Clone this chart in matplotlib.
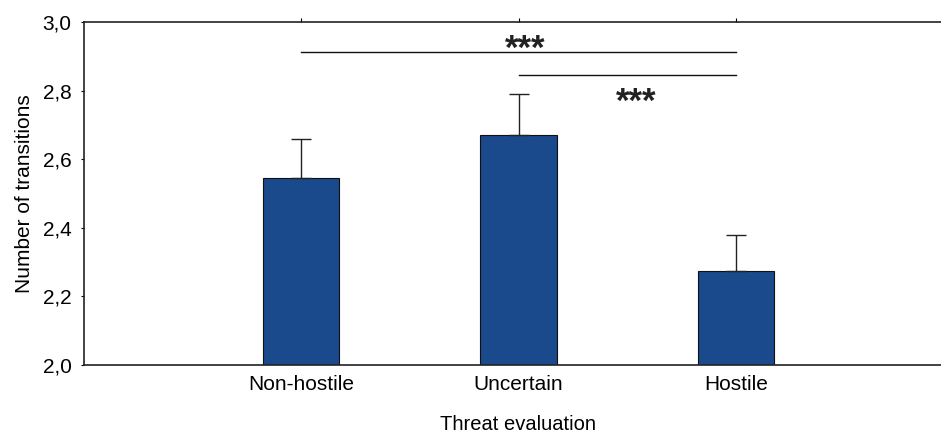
import matplotlib
matplotlib.use("Agg")
import matplotlib.pyplot as plt
from matplotlib.ticker import FuncFormatter

categories = ["Non-hostile", "Uncertain", "Hostile"]
means = [2.545, 2.67, 2.275]
errors = [0.115, 0.12, 0.105]
y_ticks = [2.0, 2.2, 2.4, 2.6, 2.8, 3.0]

# significance brackets: (from category, to category, line height)
brackets = [(0, 2, 2.912), (1, 2, 2.845)]
# star annotations: (x, baseline y, text)
stars = [(1.03, 2.892, "***"), (1.54, 2.737, "***")]

plt.rcParams["font.family"] = ["Liberation Sans", "DejaVu Sans"]

fig = plt.figure(figsize=(9.41, 4.34), dpi=100)
ax = fig.add_axes([84 / 941, 1 - 365 / 434, (953 - 84) / 941, (365 - 22) / 434])

x = list(range(len(categories)))
ax.bar(x, means, width=0.35, bottom=0, color="#1b4a8c", edgecolor="#111111",
       linewidth=0.8, zorder=2)
ax.errorbar(x, means, yerr=[[0] * len(errors), errors], fmt="none",
            ecolor="#222222", elinewidth=1.0, capsize=7.5, capthick=1.0, zorder=3)

for a, b, h in brackets:
    ax.plot([a, b], [h, h], color="#111111", lw=1.0, zorder=3)
for sx, sy, s in stars:
    ax.text(sx, sy, s, ha="center", va="baseline", fontsize=25,
            fontweight="bold", color="#222222")

ax.set_xlim(-1, 3)
ax.set_ylim(2.0, 3.0)
ax.set_xticks(x)
ax.set_xticklabels(categories, fontsize=15)
ax.set_yticks(y_ticks)
ax.yaxis.set_major_formatter(FuncFormatter(lambda v, p: f"{v:.1f}".replace(".", ",")))
ax.tick_params(axis="y", labelsize=15, length=2, width=0.8, pad=7)
ax.tick_params(axis="x", bottom=False, top=True, length=3, direction="out", pad=4)

for side in ["left", "bottom", "top"]:
    ax.spines[side].set_linewidth(1.2)
    ax.spines[side].set_color("#222222")
ax.spines["right"].set_visible(False)

ax.set_xlabel("Threat evaluation", fontsize=14.5, labelpad=15)
ax.set_ylabel("Number of transitions", fontsize=15, labelpad=6)

fig.savefig("out.png", dpi=100)
